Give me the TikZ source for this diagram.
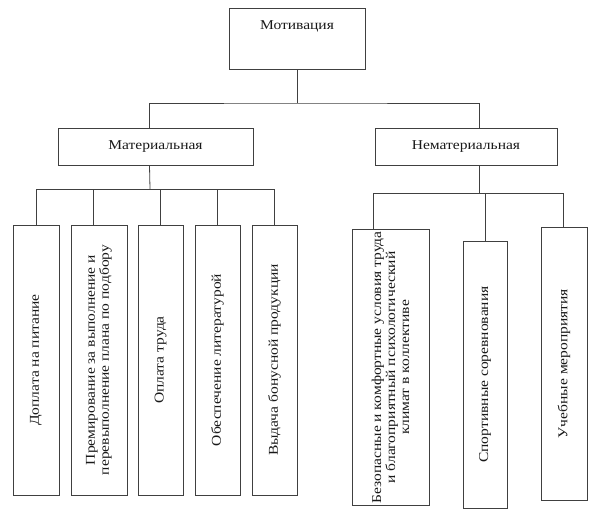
\documentclass[tikz,border=0pt]{standalone}
\usepackage{fontspec}
\setmainfont{Liberation Serif}[FakeStretch=1.15]
\usetikzlibrary{positioning}

\begin{document}
\begin{tikzpicture}[x=1pt, y=-1pt,
  box/.style={draw=black!75, line width=0.8pt, fill=white, inner sep=2pt,
    text=black!90, font=\fontsize{13.5}{14}\selectfont},
  vbox/.style={box, rotate=90, align=center},
  link/.style={draw=black!75, line width=0.8pt}]
  \useasboundingbox (0,0) rectangle (600,514);
  % levels 1 and 2
  \node[box, minimum width=136pt, text height=11pt, text depth=30pt, inner ysep=10pt] (mot) at (297,38.5) {Мотивация};
  \node[box, minimum width=195pt, minimum height=37pt] (mat) at (155.5,146.5) {Материальная};
  \node[box, minimum width=182pt, minimum height=37pt] (nonmat) at (466,146.5) {Нематериальная};
  % material branch
  \node[vbox, minimum width=270pt, minimum height=46pt] (b1) at (36,360) {Доплата на питание};
  \node[vbox, minimum width=270pt, minimum height=56pt] (b2) at (99,360) {Премирование за выполнение и\\перевыполнение плана по подбору};
  \node[vbox, minimum width=270pt, minimum height=45pt] (b3) at (160.5,360) {Оплата труда};
  \node[vbox, minimum width=270pt, minimum height=45pt] (b4) at (217.5,360) {Обеспечение литературой};
  \node[vbox, minimum width=270pt, minimum height=45pt] (b5) at (274.5,360) {Выдача бонусной продукции};
  % non-material branch
  \node[vbox, minimum width=275pt, minimum height=77pt] (r1) at (390.5,367.5) {Безопасные и комфортные условия труда\\и благоприятный психологический\\климат в коллективе};
  \node[vbox, minimum width=267pt, minimum height=44pt] (r2) at (485,374.5) {Спортивные соревнования};
  \node[vbox, minimum width=273pt, minimum height=46pt] (r3) at (564,363.5) {Учебные мероприятия};
  % connectors
  \coordinate (top) at (297,103);
  \coordinate (lbus) at (150,189);
  \coordinate (rbus) at (479,193);
  \draw[link] (mot.south) -- (top);
  \draw[link] ([xshift=-6pt]mat.north) |- (top) -| ([xshift=13pt]nonmat.north);
  \draw[link] ([xshift=-6pt]mat.south) -- (lbus);
  \draw[link] ([xshift=13pt]nonmat.south) -- (rbus);
  \foreach \b/\s in {b1/0, b2/-6, b3/0, b4/0, b5/0}
    \draw[link] ([xshift=\s pt]\b.east) |- (lbus);
  \foreach \b/\s in {r1/-17.5, r2/0, r3/-1}
    \draw[link] ([xshift=\s pt]\b.east) |- (rbus);
\end{tikzpicture}
\end{document}
